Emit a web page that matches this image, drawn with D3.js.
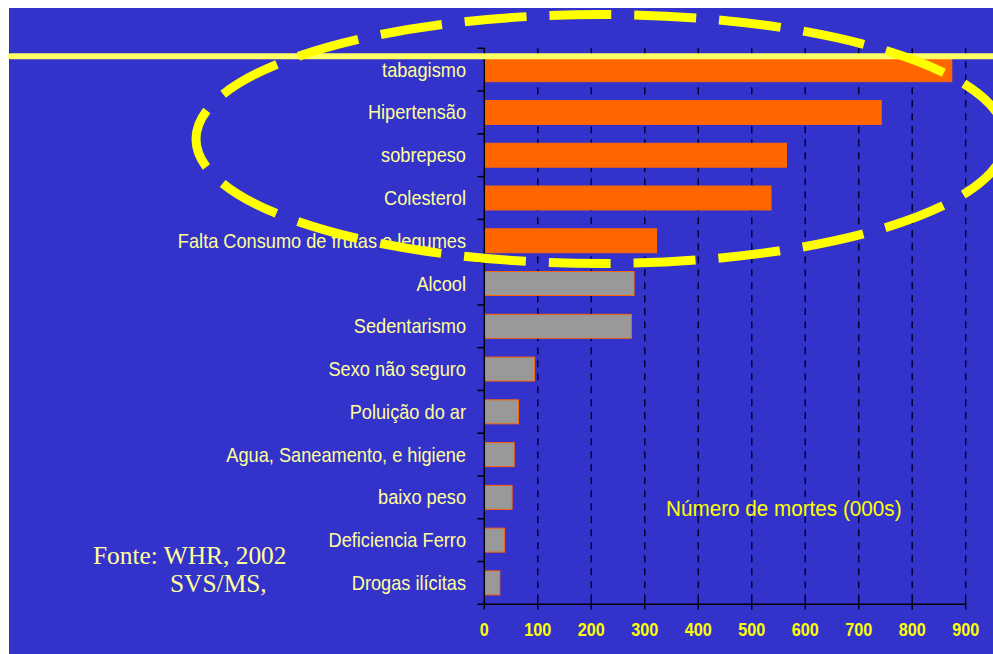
<!DOCTYPE html>
<html>
<head>
<meta charset="utf-8">
<script src="https://cdn.jsdelivr.net/npm/d3@7"></script>
<style>
  body { margin: 0; background: #fff; }
  svg { display: block; }
</style>
</head>
<body>
<svg id="chart" width="993" height="654"></svg>
<script>
// dados (OMS, WHR 2002)
const categories = ["tabagismo", "Hipertensão", "sobrepeso", "Colesterol",
    "Falta Consumo de frutas e legumes", "Alcool", "Sedentarismo", "Sexo não seguro",
    "Poluição do ar", "Agua, Saneamento, e higiene", "baixo peso", "Deficiencia Ferro",
    "Drogas ilícitas"]
const values = [874, 742, 565, 536, 322, 280, 275, 94, 64, 56, 52, 38, 29]
const highlighted = 5   // primeiros fatores em laranja
const xTicks = [0, 100, 200, 300, 400, 500, 600, 700, 800, 900]
const axisTitle = "Número de mortes (000s)"
const sourceLines = ["Fonte: WHR, 2002", "SVS/MS,"]

const svg = d3.select("#chart")
const width = 993, height = 654

svg.append("rect")
    .attr("x", 9).attr("y", 8)
    .attr("width", width - 9).attr("height", height - 8)
    .attr("fill", "#3333CC")

const x = d3.scaleLinear().domain([0, 900]).range([484.3, 965.7])
const y = d3.scaleBand().domain(categories).range([48.3, 604.3])
    .paddingInner(0.44).paddingOuter(0.22)
const gap = (y.step() - y.bandwidth()) / 2

// grade tracejada
svg.append("g").selectAll("line")
    .data(xTicks.slice(1))
    .enter().append("line")
    .attr("x1", d => x(d)).attr("x2", d => x(d))
    .attr("y1", 48.3).attr("y2", 604.3)
    .attr("stroke", "#000033").attr("stroke-width", 1.5)
    .attr("stroke-dasharray", "7,6")

// barras
svg.append("g").selectAll("rect")
    .data(values)
    .enter().append("rect")
    .attr("x", x(0))
    .attr("y", (d, i) => y(categories[i]))
    .attr("width", d => x(d) - x(0))
    .attr("height", y.bandwidth())
    .attr("fill", (d, i) => i < highlighted ? "#FF6600" : "#999999")
    .attr("stroke", "#FF6600").attr("stroke-width", 1)

// eixo vertical
const yAxis = svg.append("g")
yAxis.append("line")
    .attr("x1", x(0)).attr("x2", x(0))
    .attr("y1", 48.3).attr("y2", 604.3)
    .attr("stroke", "#000").attr("stroke-width", 1.5)
yAxis.selectAll(".tk")
    .data(categories)
    .enter().append("line")
    .attr("class", "tk")
    .attr("x1", x(0) - 7).attr("x2", x(0))
    .attr("y1", d => y(d) - gap).attr("y2", d => y(d) - gap)
    .attr("stroke", "#000").attr("stroke-width", 1.5)

yAxis.selectAll("text")
    .data(categories)
    .enter().append("text")
    .attr("transform", d => `translate(466,${y(d) + y.bandwidth() / 2 + 7}) scale(0.91,1)`)
    .attr("text-anchor", "end")
    .attr("font-family", "Liberation Sans, Arial, sans-serif")
    .attr("font-size", 20)
    .attr("fill", "#FFFF99")
    .text(d => d)

// eixo horizontal
const xAxis = svg.append("g")
xAxis.append("line")
    .attr("x1", x(0) - 7).attr("x2", x(900))
    .attr("y1", 604.3).attr("y2", 604.3)
    .attr("stroke", "#000").attr("stroke-width", 1.5)
xAxis.selectAll(".tk")
    .data(xTicks)
    .enter().append("line")
    .attr("class", "tk")
    .attr("x1", d => x(d)).attr("x2", d => x(d))
    .attr("y1", 601.5).attr("y2", 609.5)
    .attr("stroke", "#000").attr("stroke-width", 1.5)
xAxis.selectAll("text")
    .data(xTicks)
    .enter().append("text")
    .attr("transform", d => `translate(${x(d)},636) scale(0.9,1)`)
    .attr("text-anchor", "middle")
    .attr("font-family", "Liberation Sans, Arial, sans-serif")
    .attr("font-weight", "bold")
    .attr("font-size", 18)
    .attr("fill", "#FFFF00")
    .text(d => d)

svg.append("text")
    .attr("transform", "translate(666,516) scale(0.94,1)")
    .attr("font-family", "Liberation Sans, Arial, sans-serif")
    .attr("font-size", 22)
    .attr("fill", "#FFFF00")
    .text(axisTitle)

// fonte
svg.append("g").selectAll("text")
    .data(sourceLines)
    .enter().append("text")
    .attr("x", (d, i) => i === 0 ? 93 : 170)
    .attr("y", (d, i) => i === 0 ? 564 : 592)
    .attr("font-family", "Liberation Serif, Times New Roman, serif")
    .attr("font-size", 25.4)
    .attr("fill", "#FFFF99")
    .text(d => d)

// linha amarela de destaque
svg.append("line")
    .attr("x1", 11).attr("x2", width + 10)
    .attr("y1", 56.3).attr("y2", 56.3)
    .attr("stroke", "#FFFF66").attr("stroke-width", 6)
    .attr("stroke-linecap", "round")

// elipse tracejada
svg.append("ellipse")
    .attr("cx", 601).attr("cy", 139)
    .attr("rx", 405).attr("ry", 124.5)
    .attr("fill", "none")
    .attr("stroke", "#FFFF00").attr("stroke-width", 9)
    .attr("stroke-dasharray", "62,22.9")
    .attr("stroke-dashoffset", 73.7)
</script>
</body>
</html>
